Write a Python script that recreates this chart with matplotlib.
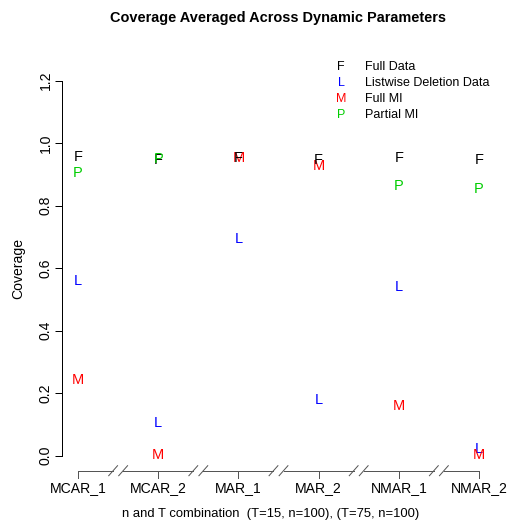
import matplotlib
matplotlib.use('Agg')
import matplotlib.pyplot as plt

plt.rcParams['font.family'] = ['Liberation Sans', 'DejaVu Sans']

categories = ['MCAR_1', 'MCAR_2', 'MAR_1', 'MAR_2', 'NMAR_1', 'NMAR_2']

# coverage per method (partial MI not shown for the MAR cases)
full_data = [0.955, 0.946, 0.952, 0.946, 0.952, 0.946]
listwise = [0.559, 0.105, 0.693, 0.178, 0.539, 0.022]
full_mi = [0.242, 0.002, 0.952, 0.927, 0.160, 0.003]
partial_mi = [0.904, 0.948, None, None, 0.862, 0.853]

series = [
    ('F', 'Full Data', full_data, 'black'),
    ('L', 'Listwise Deletion Data', listwise, 'blue'),
    ('M', 'Full MI', full_mi, 'red'),
    ('P', 'Partial MI', partial_mi, '#00CD00'),
]
draw_order = [1, 2, 0, 3]

W, H = 510, 531
fig = plt.figure(figsize=(W / 72, H / 72), dpi=72)
ax = fig.add_axes([62 / W, (H - 470.7) / H, (495 - 62) / W, (470.7 - 65.7) / H])

xs = list(range(1, len(categories) + 1))
for k in draw_order:
    letter, name, vals, col = series[k]
    for x, v in zip(xs, vals):
        if v is None:
            continue
        ax.text(x, v, letter, color=col, fontsize=14.5, ha='center', va='center')

ax.set_xlim(0.8, 6.2)
ax.set_ylim(-0.048, 1.248)
for s in ax.spines.values():
    s.set_visible(False)

# y axis
ax.set_yticks([0.0, 0.2, 0.4, 0.6, 0.8, 1.0, 1.2])
ax.set_yticklabels(['0.0', '0.2', '0.4', '0.6', '0.8', '1.0', '1.2'],
                   rotation=90, va='center')
ax.tick_params(axis='y', length=7, width=1, labelsize=14, pad=2)
ax.plot([0.8, 0.8], [0, 1.2], color='black', lw=1, clip_on=False)
ax.set_ylabel('Coverage', fontsize=14, labelpad=14)

# x axis with breaks
ax.set_xticks([])
ya = -0.048
gc = '#555555'
pu = 312.5  # pixels per y unit
dy = 5 / pu
for i in range(len(xs) - 1):
    mid = (xs[i] + xs[i + 1]) / 2
    ax.plot([xs[i], mid - 0.0625], [ya, ya], color=gc, lw=1, clip_on=False)
    ax.plot([mid + 0.0625, xs[i + 1]], [ya, ya], color=gc, lw=1, clip_on=False)
    for off in (-0.0625, 0.0625):
        ax.plot([mid + off - 0.055, mid + off + 0.055], [ya - dy, ya + dy],
                color=gc, lw=1, clip_on=False)
for x, lab in zip(xs, categories):
    ax.plot([x, x], [ya, ya - 7 / pu], color=gc, lw=1, clip_on=False)
    fig.text(ax.transData.transform((x, 0))[0] / W, (H - 488) / H, lab,
             fontsize=14, ha='center', va='center')

fig.text(271 / W, (H - 514) / H,
         'n and T combination  (T=15, n=100), (T=75, n=100)',
         fontsize=13, ha='center', va='center')
fig.text(278 / W, (H - 18) / H, 'Coverage Averaged Across Dynamic Parameters',
         fontsize=14.5, fontweight='bold', ha='center', va='center')

# legend without box
rows = [67, 83, 99, 115]
for (letter, name, vals, col), y in zip(series, rows):
    fig.text(341 / W, (H - y) / H, letter, color=col, fontsize=12.5,
             ha='center', va='center')
    fig.text(365 / W, (H - y) / H, name, fontsize=12.5, ha='left', va='center')

fig.savefig('out.png', dpi=72)
